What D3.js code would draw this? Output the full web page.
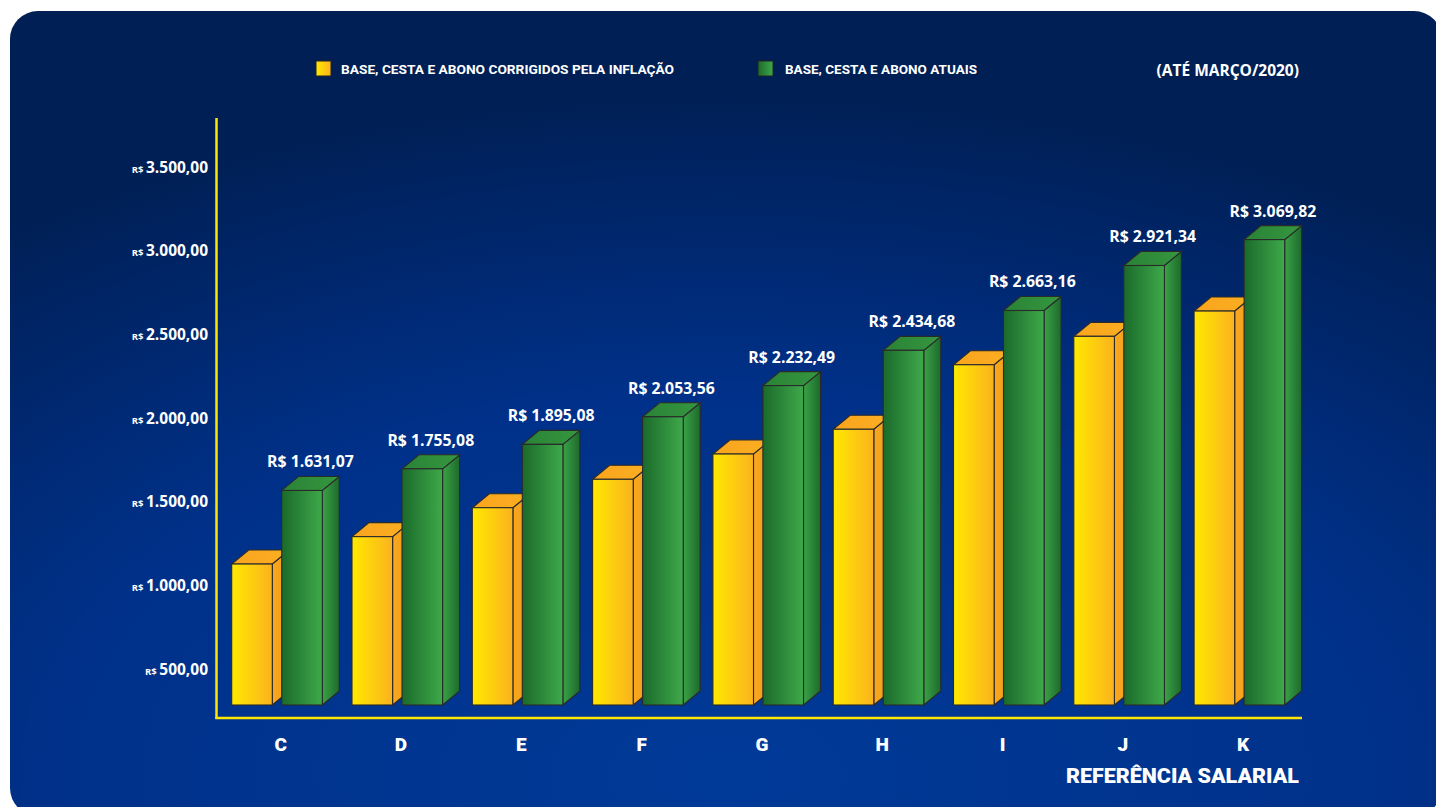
<!DOCTYPE html>
<html>
<head>
<meta charset="utf-8">
<script src="https://cdn.jsdelivr.net/npm/d3@7"></script>
<style>
  body { margin: 0; background: #ffffff; }
  #chart { width: 1436px; height: 807px; }
  text { font-family: "Open Sans", Roboto, sans-serif; fill: #ffffff; }
</style>
</head>
<body>
<div id="chart"></div>
<script>
// Data
var categories = ["C", "D", "E", "F", "G", "H", "I", "J", "K"];
var corrigidos = [1209, 1366, 1532, 1695, 1840, 1982, 2352, 2515, 2660];   // yellow, no labels (estimated)
var atuais = [1631.07, 1755.08, 1895.08, 2053.56, 2232.49, 2434.68, 2663.16, 2921.34, 3069.82];
var tickValues = [500, 1000, 1500, 2000, 2500, 3000, 3500];
var seriesNames = ["BASE, CESTA E ABONO CORRIGIDOS PELA INFLAÇÃO", "BASE, CESTA E ABONO ATUAIS"];
var periodLabel = "(ATÉ MARÇO/2020)";
var axisTitle = "REFERÊNCIA SALARIAL";

var width = 1436, height = 807;
var floorY = 705, dx = 17, dy = 14;

var svg = d3.select("#chart")
  .append("svg")
    .attr("width", width)
    .attr("height", height);

var defs = svg.append("defs");

// background gradient
var bg = defs.append("radialGradient").attr("id", "bg")
    .attr("cx", "50%").attr("cy", "95%").attr("r", "85%")
    .attr("fx", "50%").attr("fy", "95%");
bg.append("stop").attr("offset", "0%").attr("stop-color", "#003a98");
bg.append("stop").attr("offset", "55%").attr("stop-color", "#00318a");
bg.append("stop").attr("offset", "100%").attr("stop-color", "#001f55");

function linGrad(id, c1, c2) {
  var g = defs.append("linearGradient").attr("id", id)
      .attr("x1", "0%").attr("x2", "100%").attr("y1", "0%").attr("y2", "0%");
  g.append("stop").attr("offset", "0%").attr("stop-color", c1);
  g.append("stop").attr("offset", "100%").attr("stop-color", c2);
}
linGrad("yFront", "#ffe900", "#fbb21e");
linGrad("ySide", "#f9a81f", "#f29a1a");
linGrad("yTop", "#f9a51d", "#fbae22");
linGrad("gFront", "#1b6a2b", "#3ea94a");
linGrad("gSide", "#3aa246", "#1d6a2c");
linGrad("gTop", "#2a8236", "#35973f");

svg.append("rect")
    .attr("x", 10).attr("y", 11)
    .attr("width", 1432).attr("height", 805)
    .attr("rx", 28)
    .style("fill", "url(#bg)");

// Scales
var x = d3.scaleBand()
    .domain(categories)
    .range([231.7, 231.7 + 9 * 120.3]);
var xSub = d3.scaleBand()
    .domain([0, 1])
    .range([0, 90.6])
    .paddingInner(0.188);

// bar heights (front face top)
var y = d3.scaleLinear()
    .domain([0, 3500])
    .range([774.8, 164.6]);
// tick labels on the back wall
var yTick = d3.scaleLinear()
    .domain([500, 3500])
    .range([669, 167]);

function br(v) {
  return d3.format(",.2f")(v).replace(/,/g, "#").replace(".", ",").replace(/#/g, ".");
}

// Y tick labels
var ticks = svg.append("g").selectAll("text")
  .data(tickValues)
  .enter()
  .append("text")
    .attr("text-anchor", "end")
    .attr("x", 208)
    .attr("y", function(d) { return yTick(d) + 5.5; })
    .style("font-weight", 700)
    .style("font-size", "15.5px");
ticks.append("tspan")
    .style("font-size", "9.5px")
    .text("R$ ");
ticks.append("tspan")
    .text(br);

// axis lines
svg.append("line")
    .attr("x1", 216.5).attr("x2", 216.5)
    .attr("y1", 118).attr("y2", 719)
    .style("stroke", "#ffe600").style("stroke-width", 2.5);
svg.append("line")
    .attr("x1", 215.3).attr("x2", 1302)
    .attr("y1", 718).attr("y2", 718)
    .style("stroke", "#ffe600").style("stroke-width", 2.5);

// 3D bars
function drawBar(g, x0, w, top, pre) {
  var stroke = "#2a2a2a";
  g.append("polygon")
      .attr("points", [[x0 + w, top], [x0 + w + dx, top - dy], [x0 + w + dx, floorY - dy], [x0 + w, floorY]].join(" "))
      .style("fill", "url(#" + pre + "Side)").style("stroke", stroke).style("stroke-width", 1.1);
  g.append("polygon")
      .attr("points", [[x0, top], [x0 + dx, top - dy], [x0 + w + dx, top - dy], [x0 + w, top]].join(" "))
      .style("fill", "url(#" + pre + "Top)").style("stroke", stroke).style("stroke-width", 1.1);
  g.append("rect")
      .attr("x", x0).attr("y", top)
      .attr("width", w).attr("height", floorY - top)
      .style("fill", "url(#" + pre + "Front)").style("stroke", stroke).style("stroke-width", 1.1);
}

var bars = svg.append("g");
var w = xSub.bandwidth();
categories.forEach(function(c, i) {
  var g = bars.append("g");
  drawBar(g, x(c) + xSub(0), w, y(corrigidos[i]), "y");
  drawBar(g, x(c) + xSub(1), w, y(atuais[i]), "g");
});

// value labels over green bars
svg.append("g").selectAll("text")
  .data(atuais)
  .enter()
  .append("text")
    .attr("text-anchor", "middle")
    .attr("x", function(d, i) { return x(categories[i]) + xSub(1) + w / 2 + dx / 2; })
    .attr("y", function(d) { return y(d) - dy - 9; })
    .style("font-weight", 700)
    .style("font-size", "15.8px")
    .text(function(d) { return "R$ " + br(d); });

// category labels
svg.append("g").selectAll("text")
  .data(categories)
  .enter()
  .append("text")
    .attr("text-anchor", "middle")
    .attr("x", function(d) { return x(d) + 49; })
    .attr("y", 750.5)
    .style("font-family", "Roboto, sans-serif")
    .style("font-weight", 900)
    .style("font-size", "19px")
    .text(function(d) { return d; });

svg.append("text")
    .attr("x", 1066)
    .attr("y", 783.3)
    .attr("textLength", 233)
    .attr("lengthAdjust", "spacingAndGlyphs")
    .style("font-family", "Roboto, sans-serif")
    .style("font-weight", 900)
    .style("font-size", "19.5px")
    .text(axisTitle);

// legend
var legend = [
  {name: seriesNames[0], fill: "url(#yFront)", sx: 316, tx: 341, tw: 333},
  {name: seriesNames[1], fill: "url(#gFront)", sx: 758, tx: 785, tw: 192}
];
legend.forEach(function(l) {
  svg.append("rect")
      .attr("x", l.sx).attr("y", 61)
      .attr("width", 15).attr("height", 15)
      .style("fill", l.fill).style("stroke", "#222").style("stroke-width", 1);
  svg.append("text")
      .attr("x", l.tx).attr("y", 74)
      .attr("textLength", l.tw)
      .attr("lengthAdjust", "spacingAndGlyphs")
      .style("font-family", "Roboto, sans-serif")
      .style("font-weight", 700)
      .style("font-size", "12.5px")
      .text(l.name);
});

svg.append("text")
    .attr("text-anchor", "end")
    .attr("x", 1299)
    .attr("y", 75.5)
    .style("font-weight", 700)
    .style("font-size", "15.5px")
    .text(periodLabel);
</script>
</body>
</html>
